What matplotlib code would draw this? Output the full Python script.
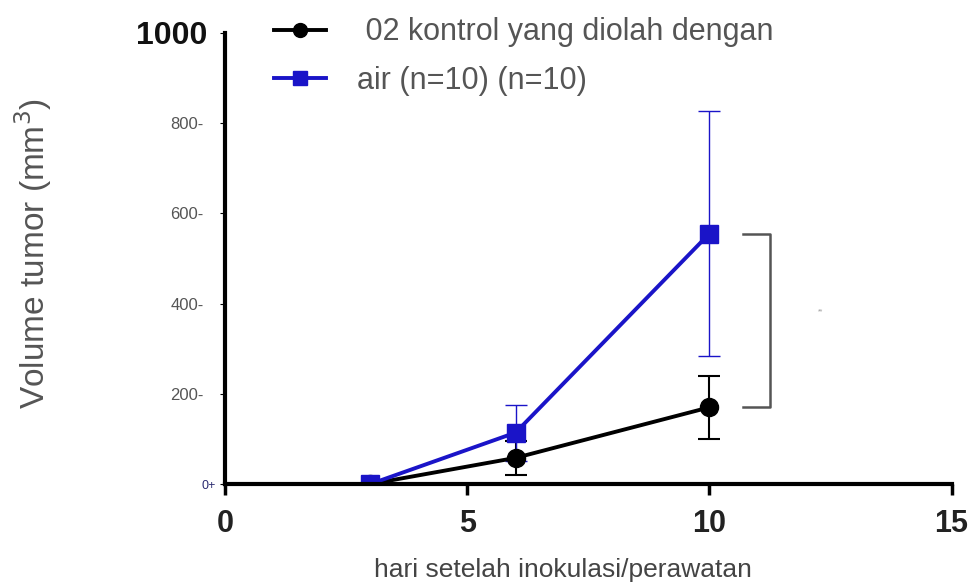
import matplotlib.pyplot as plt
from matplotlib.lines import Line2D

# tumour volume per group, mean and SD
days = [3, 6, 10]
control_mean = [0, 58, 170]
control_sd = [0, 38, 70]
water_mean = [0, 114, 555]
water_sd = [0, 62, 272]

legend_labels = [" 02 kontrol yang diolah dengan", "air (n=10) (n=10)"]
ytick_vals = [0, 200, 400, 600, 800, 1000]
ytick_text = ["0+", "200-", "400-", "600-", "800-", "1000"]
xtick_vals = [0, 5, 10, 15]

plt.rcParams['font.family'] = ['Liberation Sans', 'DejaVu Sans']

fig = plt.figure(figsize=(9.76, 5.86), dpi=100)
ax = fig.add_axes([0.2305, 0.174, 0.7445, 0.770])

blue = '#1a14c8'
ax.errorbar(days, control_mean, yerr=control_sd, color='black', lw=2.8,
            marker='o', ms=13, capsize=8, elinewidth=1.5, capthick=1.5)
ax.errorbar(days, water_mean, yerr=water_sd, color=blue, lw=2.8,
            marker='s', ms=13, capsize=8, elinewidth=1, capthick=1)

# significance bracket between the day-10 means
bx0, bx1 = 10.7, 11.25
ax.plot([bx0, bx1, bx1, bx0], [water_mean[2], water_mean[2], control_mean[2], control_mean[2]],
        color='#555555', lw=1.8, clip_on=False)
ax.text(12.3, (water_mean[2] + control_mean[2]) / 2 + 20, "**", fontsize=5,
        color='#999999', ha='center', va='center')

ax.set_xlim(0, 15)
ax.set_ylim(0, 1000)
ax.spines['top'].set_visible(False)
ax.spines['right'].set_visible(False)
ax.spines['left'].set_linewidth(3)
ax.spines['bottom'].set_linewidth(3)

ax.set_xticks(xtick_vals)
ax.set_xticklabels([str(v) for v in xtick_vals], fontsize=22, fontweight='bold', color='#222222')
ax.tick_params(axis='x', length=8, width=2.5, pad=10)

ax.set_yticks(ytick_vals)
ax.set_yticklabels(ytick_text)
for i, (tick, lab) in enumerate(zip(ax.yaxis.get_major_ticks(), ax.get_yticklabels())):
    if ytick_vals[i] == 1000:
        lab.set_fontsize(23)
        lab.set_fontweight('bold')
        lab.set_color('#111111')
        tick.tick1line.set_markersize(13)
        tick.tick1line.set_markeredgewidth(2.5)
        tick.set_pad(9)
    elif ytick_vals[i] == 0:
        lab.set_fontsize(9)
        lab.set_color('#2a2a70')
        tick.tick1line.set_markersize(0)
        tick.set_pad(3)
    else:
        lab.set_fontsize(12)
        lab.set_color('#555555')
        tick.tick1line.set_markersize(0)
        tick.set_pad(12)

ax.set_ylabel("Volume tumor (mm$^3$)", fontsize=24, color='#555555')
ax.yaxis.set_label_coords(-0.235, 0.51)
ax.set_xlabel("hari setelah inokulasi/perawatan", fontsize=19, color='#444444')
ax.xaxis.set_label_coords(0.465, -0.163)

handles = [Line2D([], [], color='black', lw=2.8, marker='o', ms=10),
           Line2D([], [], color=blue, lw=2.8, marker='s', ms=10)]
ax.legend(handles, legend_labels, loc='upper left', bbox_to_anchor=(0.03, 1.095),
          frameon=False, fontsize=22, handlelength=1.7, labelcolor='#555555',
          labelspacing=0.6, handletextpad=1.0)

fig.savefig('out.png', dpi=100)
